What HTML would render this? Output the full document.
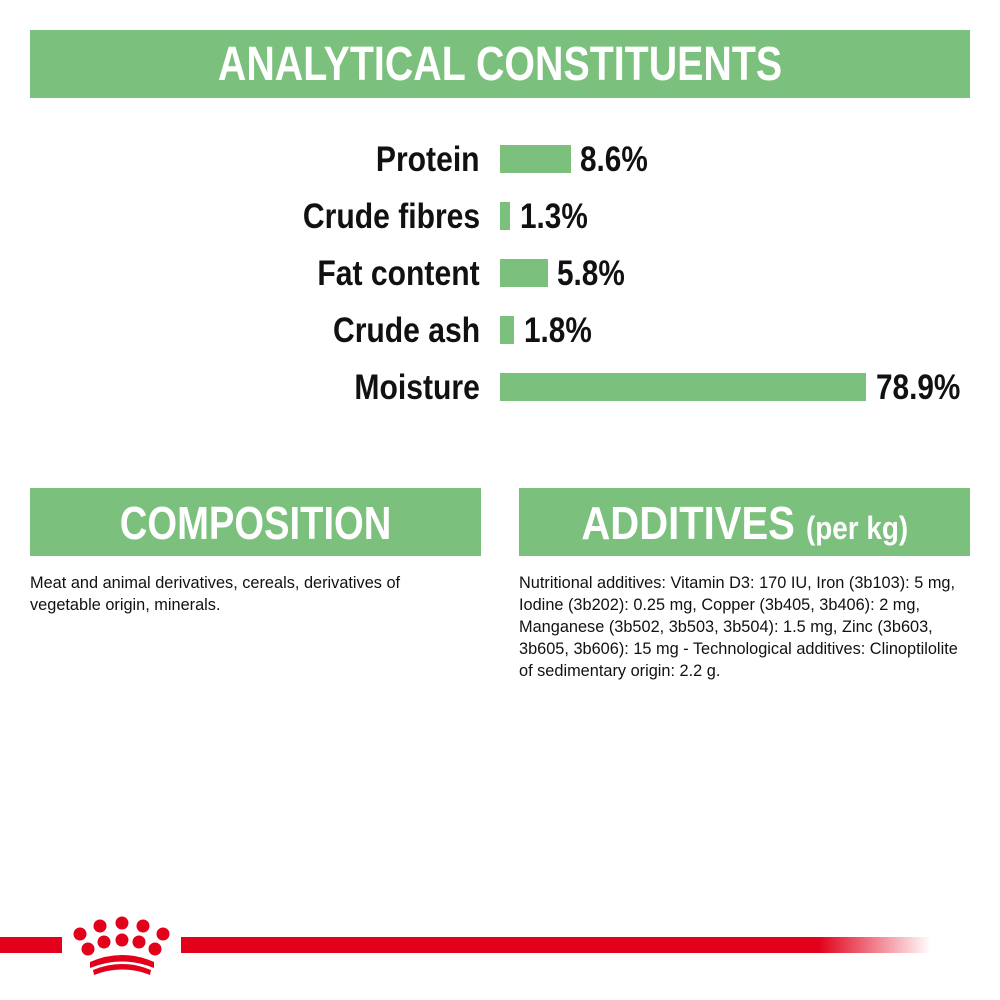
<!DOCTYPE html>
<html><head><style>
body{margin:0;width:1000px;height:1000px;background:#fff;position:relative;overflow:hidden;font-family:"Liberation Sans",sans-serif;}
.hd{position:absolute;background:#7bc07d;color:#fff;font-weight:bold;text-align:center;}
.hd span.i{display:inline-block;}
.lab{position:absolute;right:520px;font-weight:bold;font-size:35px;color:#111;line-height:1;transform:scaleX(0.86);transform-origin:right center;white-space:nowrap;}
.bar{position:absolute;left:500px;height:28px;background:#7bc07d;}
.val{position:absolute;font-weight:bold;font-size:35px;color:#111;line-height:1;transform:scaleX(0.85);transform-origin:left center;white-space:nowrap;}
.txt{position:absolute;font-size:17px;line-height:22px;color:#111;transform:scaleX(0.96);transform-origin:left top;}
</style></head><body>
<div class="hd" style="left:30px;top:30px;width:940px;height:68px;font-size:48px;line-height:70px;"><span class="i" style="transform:scaleX(0.82)">ANALYTICAL CONSTITUENTS</span></div>

<div class="lab" style="top:142px">Protein</div><div class="bar" style="top:145px;width:71px"></div><div class="val" style="left:580px;top:142px">8.6%</div>
<div class="lab" style="top:199px">Crude fibres</div><div class="bar" style="top:202px;width:10px"></div><div class="val" style="left:520px;top:199px">1.3%</div>
<div class="lab" style="top:256px">Fat content</div><div class="bar" style="top:259px;width:48px"></div><div class="val" style="left:557px;top:256px">5.8%</div>
<div class="lab" style="top:313px">Crude ash</div><div class="bar" style="top:316px;width:14px"></div><div class="val" style="left:524px;top:313px">1.8%</div>
<div class="lab" style="top:370px">Moisture</div><div class="bar" style="top:373px;width:366px"></div><div class="val" style="left:876px;top:370px">78.9%</div>

<div class="hd" style="left:30px;top:488px;width:451px;height:68px;font-size:46px;line-height:70px;"><span class="i" style="transform:scaleX(0.83)">COMPOSITION</span></div>
<div class="hd" style="left:519px;top:488px;width:451px;height:68px;font-size:46px;line-height:70px;"><span class="i" style="transform:scaleX(0.87)">ADDITIVES <span style="font-size:32px">(per kg)</span></span></div>

<div class="txt" style="left:30px;top:572px;width:460px">Meat and animal derivatives, cereals, derivatives of vegetable origin, minerals.</div>
<div class="txt" style="left:519px;top:572px;width:472px">Nutritional additives: Vitamin D3: 170 IU, Iron (3b103): 5 mg, Iodine (3b202): 0.25 mg, Copper (3b405, 3b406): 2 mg, Manganese (3b502, 3b503, 3b504): 1.5 mg, Zinc (3b603, 3b605, 3b606): 15 mg - Technological additives: Clinoptilolite of sedimentary origin: 2.2 g.</div>

<div style="position:absolute;left:0;top:937px;width:62px;height:16px;background:#e2001a"></div>
<div style="position:absolute;left:181px;top:937px;width:750px;height:16px;background:linear-gradient(to right,#e2001a 0%,#e2001a 85%,#fff 100%)"></div>
<svg style="position:absolute;left:60px;top:910px" width="120" height="75" viewBox="60 910 120 75">
<g fill="#e2001a">
<circle cx="80" cy="934" r="6.5"/><circle cx="100" cy="926" r="6.5"/><circle cx="122" cy="923" r="6.5"/><circle cx="143" cy="926" r="6.5"/><circle cx="163" cy="934" r="6.5"/>
<circle cx="88" cy="949" r="6.5"/><circle cx="104" cy="942" r="6.5"/><circle cx="122" cy="940" r="6.5"/><circle cx="139" cy="942" r="6.5"/><circle cx="155" cy="949" r="6.5"/>
<path d="M90 962 Q122 948 154 962 L154 968 Q122 955 90 968Z"/>
<path d="M93 970 Q122 958 151 970 L150 975 Q122 964 94 975Z"/>
</g></svg>
</body></html>
